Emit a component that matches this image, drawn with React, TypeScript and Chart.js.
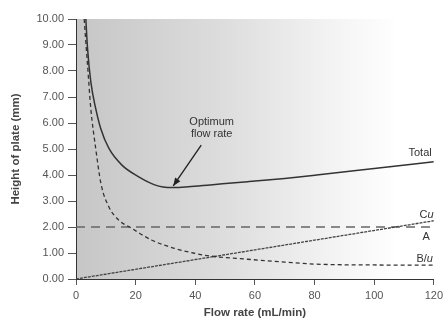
import React, { useEffect, useRef } from "react";
import { Chart, registerables } from "chart.js";
Chart.register(...registerables);

// Flow rate (mL/min) and plate height (mm)
const totalX = [3.3, 3.87, 4.96, 6.6, 8.26, 11, 15.4, 20.9, 26.4, 29.2, 33, 37.7, 45, 57.5, 70, 80.7, 100, 120];
const totalY = [10, 8.87, 7.59, 6.56, 5.8, 5.03, 4.38, 3.94, 3.62, 3.54, 3.52, 3.55, 3.62, 3.74, 3.87, 4.0, 4.25, 4.51];

const bX = [2.75, 3.3, 3.87, 4.96, 6.6, 8.4, 11, 14.3, 18.7, 25.3, 33, 39.7, 45.2, 57.5, 70, 80.7, 100, 120];
const bY = [10, 9.1, 8.23, 6.56, 5.03, 3.65, 2.78, 2.27, 1.95, 1.5, 1.18, 0.99, 0.88, 0.76, 0.65, 0.57, 0.54, 0.53];

const cX = [0, 120];
const cY = [0, 2.24];

const aX = [0, 120];
const aY = [2, 2];

const yTicks = [0, 1, 2, 3, 4, 5, 6, 7, 8, 9, 10];

const FONT = "'Liberation Sans', Arial, sans-serif";

const pts = (xs: number[], ys: number[]) => xs.map((x, i) => ({ x, y: ys[i] }));

export default function App() {
  const ref = useRef<HTMLCanvasElement>(null);
  useEffect(() => {
    document.body.style.margin = "0";
    const canvas = ref.current!;

    const bgPlugin = {
      id: "bg",
      beforeDraw(chart: any) {
        const { ctx, chartArea } = chart;
        const { left, right, top, bottom } = chartArea;
        const g = ctx.createLinearGradient(left, 0, right, 0);
        g.addColorStop(0, "#c6c6c6");
        g.addColorStop(0.4, "#dcdcdc");
        g.addColorStop(0.7, "#f2f2f2");
        g.addColorStop(0.9, "#ffffff");
        g.addColorStop(1, "#ffffff");
        ctx.save();
        ctx.fillStyle = g;
        ctx.fillRect(left, top, right - left, bottom - top);
        ctx.restore();
      },
    };

    const labelPlugin = {
      id: "labels",
      afterDatasetsDraw(chart: any) {
        const { ctx, scales } = chart;
        const X = (v: number) => scales.x.getPixelForValue(v);
        const Y = (v: number) => scales.y.getPixelForValue(v);
        const normal = `11px ${FONT}`;
        const ital = `italic 11px ${FONT}`;
        ctx.save();
        ctx.fillStyle = "#333";
        ctx.textBaseline = "middle";

        const drawParts = (parts: [string, string][], xRight: number, y: number) => {
          let w = 0;
          parts.forEach(([t, f]) => { ctx.font = f; w += ctx.measureText(t).width; });
          let x = xRight - w;
          ctx.textAlign = "left";
          parts.forEach(([t, f]) => { ctx.font = f; ctx.fillText(t, x, y); x += ctx.measureText(t).width; });
        };

        drawParts([["Total", normal]], X(119.3), Y(4.85));
        drawParts([["C", normal], ["u", ital]], X(119.9), Y(2.46));
        ctx.font = normal;
        ctx.textAlign = "center";
        ctx.fillText("A", X(117.4), Y(1.62));
        drawParts([["B/", normal], ["u", ital]], X(119.7), Y(0.77));

        ctx.font = normal;
        ctx.textAlign = "center";
        ctx.fillText("Optimum", X(45.5), Y(6.04));
        ctx.fillText("flow rate", X(45.5), Y(5.58));

        // arrow
        const x1 = X(42), y1 = Y(5.15), x2 = X(32.6), y2 = Y(3.58);
        ctx.strokeStyle = "#222";
        ctx.lineWidth = 1.3;
        ctx.beginPath();
        ctx.moveTo(x1, y1);
        ctx.lineTo(x2, y2);
        ctx.stroke();
        const ang = Math.atan2(y2 - y1, x2 - x1);
        const L = 8, W = 3.2;
        ctx.fillStyle = "#222";
        ctx.beginPath();
        ctx.moveTo(x2, y2);
        ctx.lineTo(x2 - L * Math.cos(ang) + W * Math.sin(ang), y2 - L * Math.sin(ang) - W * Math.cos(ang));
        ctx.lineTo(x2 - L * Math.cos(ang) - W * Math.sin(ang), y2 - L * Math.sin(ang) + W * Math.cos(ang));
        ctx.closePath();
        ctx.fill();
        ctx.restore();
      },
    };

    const chart = new Chart(canvas, {
      type: "line",
      data: {
        datasets: [
          { label: "Total", data: pts(totalX, totalY), borderColor: "#333", borderWidth: 1.5, pointRadius: 0, cubicInterpolationMode: "monotone", fill: false },
          { label: "B/u", data: pts(bX, bY), borderColor: "#333", borderWidth: 1.3, borderDash: [4, 3], pointRadius: 0, cubicInterpolationMode: "monotone", fill: false },
          { label: "Cu", data: pts(cX, cY), borderColor: "#444", borderWidth: 1.3, borderDash: [3, 1], pointRadius: 0, fill: false },
          { label: "A", data: pts(aX, aY), borderColor: "#666", borderWidth: 1.3, borderDash: [9, 6], pointRadius: 0, fill: false },
        ],
      },
      options: {
        animation: false,
        responsive: false,
        devicePixelRatio: 1,
        layout: { padding: { top: 19, right: 7, left: 0, bottom: 0 } },
        plugins: { legend: { display: false }, tooltip: { enabled: false } },
        scales: {
          x: {
            type: "linear",
            min: 0,
            max: 120,
            afterFit: (s: any) => { s.height = 41; },
            ticks: { stepSize: 20, color: "#555", font: { family: FONT, size: 11 }, padding: 4 },
            grid: { drawOnChartArea: false, drawTicks: true, tickLength: 6, color: "#555" },
            border: { display: true, color: "#333", width: 1 },
            title: { display: true, text: "Flow rate (mL/min)", color: "#444", font: { family: FONT, size: 11.5, weight: "bold" }, padding: { top: 0, bottom: 0 } },
          },
          y: {
            type: "linear",
            min: 0,
            max: 10,
            afterFit: (s: any) => { s.width = 76; },
            afterBuildTicks: (s: any) => { s.ticks = yTicks.map((v) => ({ value: v })); },
            ticks: { color: "#555", font: { family: FONT, size: 11 }, padding: 4, callback: (v: any) => Number(v).toFixed(2) },
            grid: { drawOnChartArea: false, drawTicks: true, tickLength: 8, color: "#555" },
            border: { display: true, color: "#333", width: 1 },
            title: { display: true, text: "Height of plate (mm)", color: "#444", font: { family: FONT, size: 11.5, weight: "bold" }, padding: { top: 9, bottom: 0 } },
          },
        },
      } as any,
      plugins: [bgPlugin, labelPlugin],
    });
    return () => chart.destroy();
  }, []);

  return (
    <div style={{ position: "absolute", left: 0, top: 0, width: 447, height: 320, background: "#fff" }}>
      <canvas ref={ref} width={447} height={320} />
    </div>
  );
}
